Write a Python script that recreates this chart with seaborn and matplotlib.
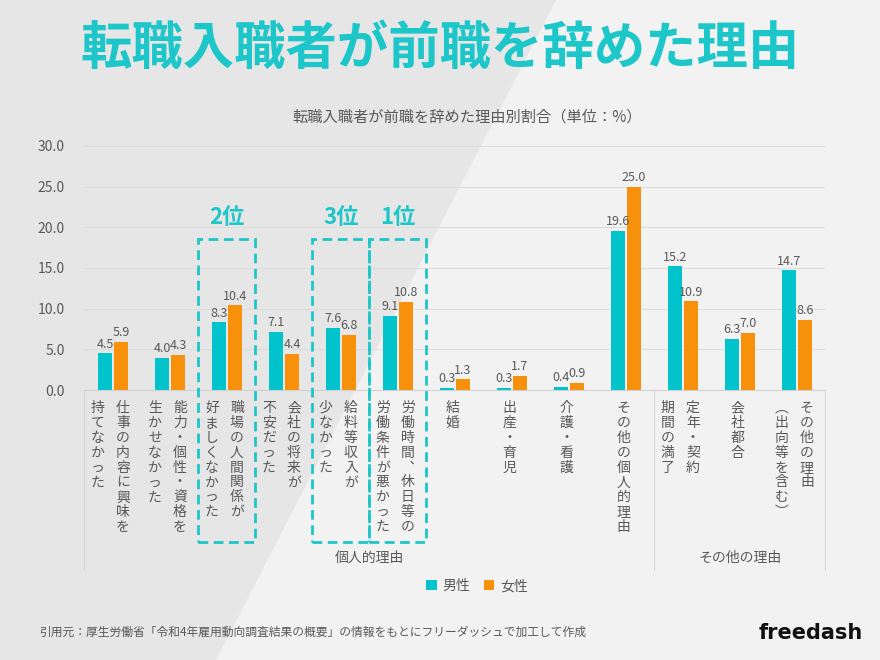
import pandas as pd
import matplotlib
matplotlib.use("Agg")
import matplotlib.pyplot as plt
import matplotlib.transforms as mtransforms
from matplotlib.patches import Polygon, Rectangle
from matplotlib.lines import Line2D
import seaborn as sns

# ---- data -------------------------------------------------------------
categories = [
    "仕事の内容に興味を持てなかった",
    "能力・個性・資格を生かせなかった",
    "職場の人間関係が好ましくなかった",
    "会社の将来が不安だった",
    "給料等収入が少なかった",
    "労働時間、休日等の労働条件が悪かった",
    "結婚",
    "出産・育児",
    "介護・看護",
    "その他の個人的理由",
    "定年・契約期間の満了",
    "会社都合",
    "その他の理由（出向等を含む）",
]
# vertical label columns, right column first (tategaki order)
label_columns = [
    ["仕事の内容に興味を", "持てなかった"],
    ["能力・個性・資格を", "生かせなかった"],
    ["職場の人間関係が", "好ましくなかった"],
    ["会社の将来が", "不安だった"],
    ["給料等収入が", "少なかった"],
    ["労働時間︑休日等の", "労働条件が悪かった"],
    ["結婚"],
    ["出産・育児"],
    ["介護・看護"],
    ["その他の個人的理由"],
    ["定年・契約", "期間の満了"],
    ["会社都合"],
    ["その他の理由", "︵出向等を含む︶"],
]
male = [4.5, 4.0, 8.3, 7.1, 7.6, 9.1, 0.3, 0.3, 0.4, 19.6, 15.2, 6.3, 14.7]
female = [5.9, 4.3, 10.4, 4.4, 6.8, 10.8, 1.3, 1.7, 0.9, 25.0, 10.9, 7.0, 8.6]
series_names = ["男性", "女性"]
group_names = ["個人的理由", "その他の理由"]
group_bounds = [(0, 9), (10, 12)]
rank_labels = {2: "2位", 4: "3位", 5: "1位"}

title = "転職入職者が前職を辞めた理由"
subtitle = "転職入職者が前職を辞めた理由別割合（単位：%）"
source = "引用元：厚生労働省「令和4年雇用動向調査結果の概要」の情報をもとにフリーダッシュで加工して作成"

TEAL = "#00c3cc"
ORANGE = "#f7900a"
TITLE_TEAL = "#1cc6c9"
GREY = "#595959"

df = pd.DataFrame({
    "category": categories * 2,
    "gender": [series_names[0]] * len(categories) + [series_names[1]] * len(categories),
    "value": male + female,
})

sns.set_theme(style="white")
plt.rcParams["font.family"] = ["Noto Sans CJK JP", "DejaVu Sans"]

fig = plt.figure(figsize=(8.8, 6.6), dpi=100)
fig.patch.set_facecolor("#e6e6e6")
# lighter diagonal band of the background
fig.patches.append(Polygon([(0.632, 1.0), (1.0, 1.0), (1.0, 0.0), (0.245, 0.0)],
                           closed=True, transform=fig.transFigure,
                           facecolor="#f2f2f2", edgecolor="none", zorder=-10))

ax = fig.add_axes([0.096, 0.409, 0.842, 0.370])
ax.set_facecolor("none")

sns.barplot(data=df, x="category", y="value", hue="gender",
            palette=[TEAL, ORANGE], saturation=1, width=0.56, gap=0.15,
            linewidth=0, ax=ax, legend=True)

for cont in ax.containers:
    ax.bar_label(cont, fmt="%.1f", padding=2, fontsize=9, color=GREY)

ax.set_ylim(0, 30)
ax.set_xlim(-0.5, len(categories) - 0.5)
ax.set_yticks(range(0, 31, 5))
ax.set_yticklabels([f"{v:.1f}" for v in range(0, 31, 5)], fontsize=10, color=GREY)
ax.tick_params(axis="y", length=0, pad=14)
ax.set_xticks(range(len(categories)))
ax.set_xticklabels([])
ax.tick_params(axis="x", length=0)
ax.set_xlabel("")
ax.set_ylabel("")
ax.yaxis.grid(True, color="#dcdcdc", linewidth=0.7)
ax.set_axisbelow(True)
for s in ["top", "right", "left"]:
    ax.spines[s].set_visible(False)
ax.spines["bottom"].set_color("#d0d0d0")
ax.spines["bottom"].set_linewidth(0.8)

trans = mtransforms.blended_transform_factory(ax.transData, ax.transAxes)

# vertical (tategaki) category labels
col_gap = 0.44
for i, cols in enumerate(label_columns):
    n = len(cols)
    for j, col in enumerate(cols):
        x = i - 0.045 + (n - 1) / 2 * col_gap - j * col_gap
        ax.text(x, -0.045, "\n".join(col), transform=trans, ha="center", va="top",
                fontsize=10, color=GREY, linespacing=1.08, clip_on=False)

# group separators and group names
for x in [-0.5, 9.5, 12.5]:
    ax.add_line(Line2D([x, x], [0, -0.738], transform=trans, color="#d6d6d6",
                       linewidth=0.8, clip_on=False))
for name, (a, b) in zip(group_names, group_bounds):
    ax.text((a + b) / 2, -0.688, name, transform=trans, ha="center", va="center",
            fontsize=10, color=GREY)

# ranking boxes
for i, lab in rank_labels.items():
    ax.add_patch(Rectangle((i - 0.5, -0.623), 1.0, 1.242, transform=trans,
                           fill=False, edgecolor=TITLE_TEAL, linewidth=2.0,
                           linestyle=(0, (3.5, 2)), clip_on=False, zorder=5))
    ax.text(i, 0.705, lab, transform=trans, ha="center", va="center",
            fontsize=16, fontweight="bold", color=TITLE_TEAL)

# legend
handles, labels = ax.get_legend_handles_labels()
ax.legend(handles, labels, loc="center", bbox_to_anchor=(0.542, 0.112),
          bbox_transform=fig.transFigure, ncol=2, frameon=False,
          handlelength=0.75, handleheight=0.75, handletextpad=0.4,
          columnspacing=1.0, fontsize=10, labelcolor=GREY)

# titles and footer
fig.text(0.5, 0.927, title, ha="center", va="center", fontsize=37,
         fontweight="bold", color=TITLE_TEAL)
fig.text(0.531, 0.823, subtitle, ha="center", va="center", fontsize=11, color=GREY)
fig.text(0.045, 0.042, source, ha="left", va="center", fontsize=8.5, color=GREY)
fig.text(0.98, 0.041, "freedash", ha="right", va="center", fontsize=15,
         fontweight="bold", color="#111111", family=["DejaVu Sans"])

fig.savefig("out.png", dpi=100, facecolor=fig.get_facecolor())
